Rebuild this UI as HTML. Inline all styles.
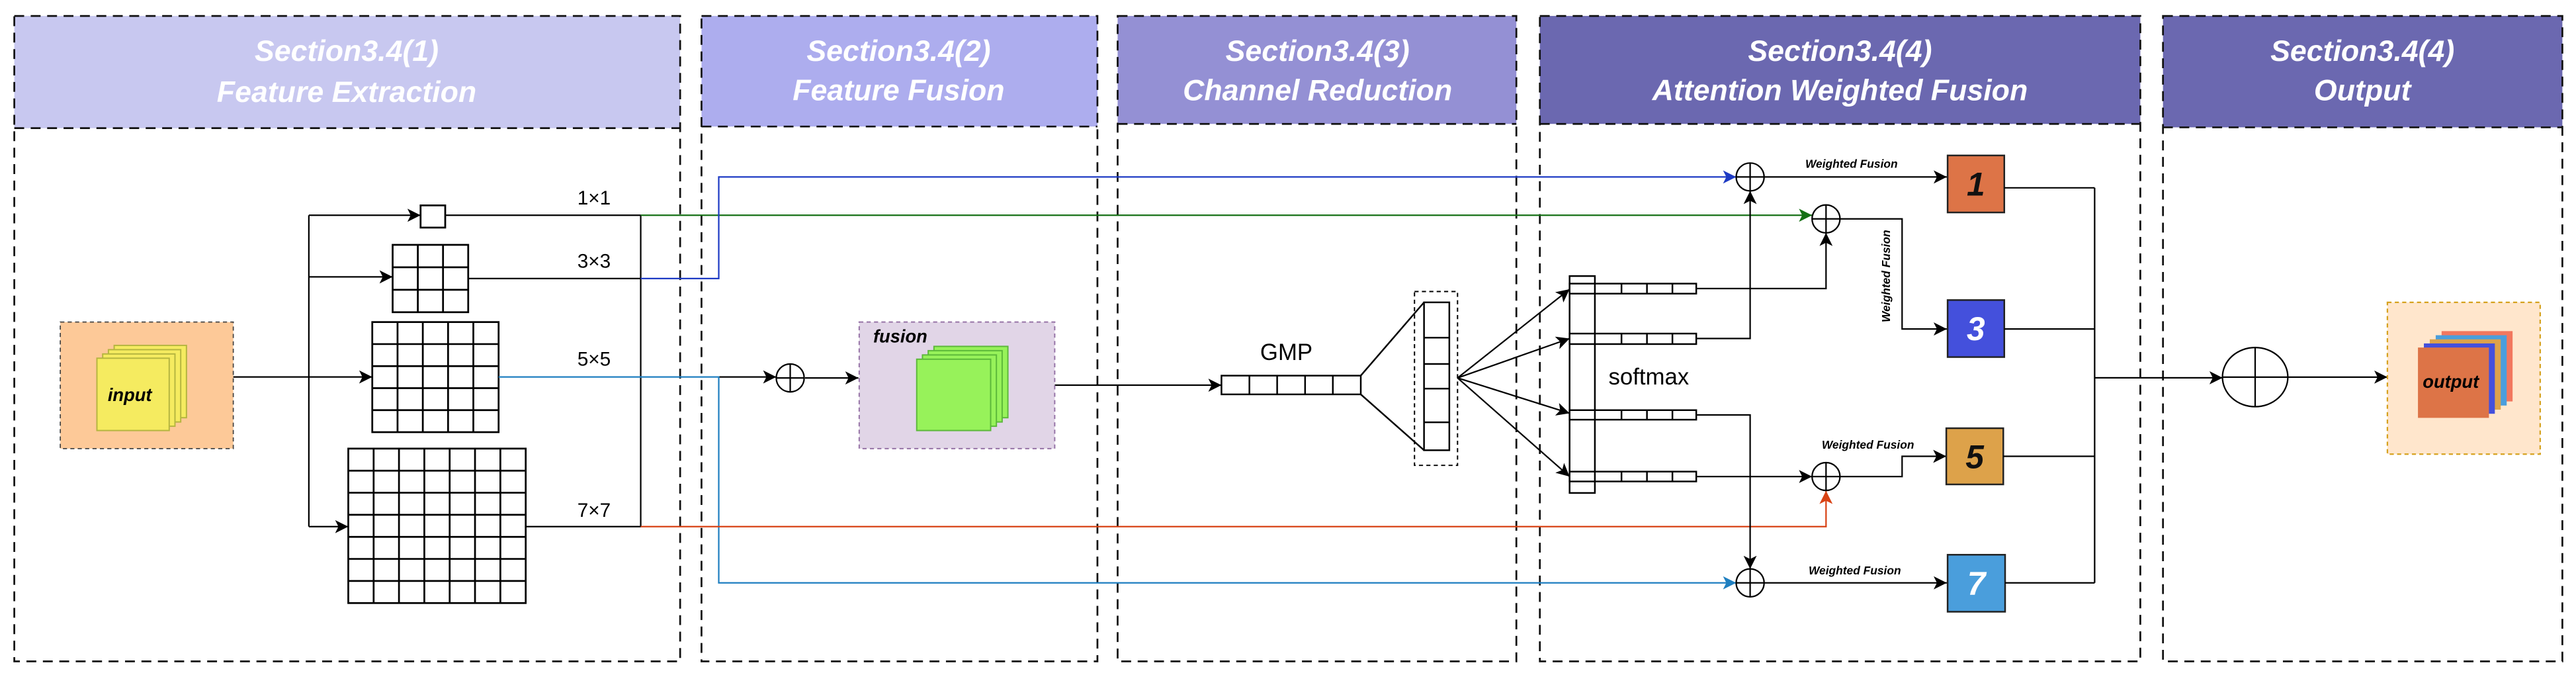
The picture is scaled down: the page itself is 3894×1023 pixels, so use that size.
<!DOCTYPE html>
<html><head><meta charset="utf-8"><style>
html,body{margin:0;padding:0;background:#fff;}
svg{display:block;}
text{font-family:"Liberation Sans",Arial,sans-serif;}
</style></head><body>
<svg width="3894" height="1023" viewBox="0 0 1568 412" preserveAspectRatio="none" xmlns="http://www.w3.org/2000/svg">
<defs>
<marker id="ak" markerUnits="userSpaceOnUse" markerWidth="10" markerHeight="8" refX="8" refY="4" orient="auto"><path d="M0,0 L8,4 L0,8 L2,4 z" fill="#000"/></marker>
<marker id="ab" markerUnits="userSpaceOnUse" markerWidth="10" markerHeight="8" refX="8" refY="4" orient="auto"><path d="M0,0 L8,4 L0,8 L2,4 z" fill="#1e3bc4"/></marker>
<marker id="ag" markerUnits="userSpaceOnUse" markerWidth="10" markerHeight="8" refX="8" refY="4" orient="auto"><path d="M0,0 L8,4 L0,8 L2,4 z" fill="#157015"/></marker>
<marker id="ao" markerUnits="userSpaceOnUse" markerWidth="10" markerHeight="8" refX="8" refY="4" orient="auto"><path d="M0,0 L8,4 L0,8 L2,4 z" fill="#d84315"/></marker>
<marker id="al" markerUnits="userSpaceOnUse" markerWidth="10" markerHeight="8" refX="8" refY="4" orient="auto"><path d="M0,0 L8,4 L0,8 L2,4 z" fill="#1f7fc0"/></marker>
</defs>

<!-- section headers -->
<rect x="8.7" y="9.7" width="405.3" height="68.3" fill="#c8c8f0"/>
<rect x="427" y="9.7" width="241" height="67.3" fill="#adadee"/>
<rect x="680.3" y="9.7" width="242.7" height="65.7" fill="#9490d4"/>
<rect x="937.3" y="9.7" width="365.5" height="65.7" fill="#6b68b0"/>
<rect x="1316.6" y="9.7" width="243.1" height="67.8" fill="#6b68b0"/>
<g fill="none" stroke="#111" stroke-width="1.1" stroke-dasharray="6,4">
<rect x="8.7" y="9.7" width="405.3" height="392.8"/><line x1="8.7" y1="78" x2="414" y2="78"/>
<rect x="427" y="9.7" width="241" height="392.8"/><line x1="427" y1="77" x2="668" y2="77"/>
<rect x="680.3" y="9.7" width="242.7" height="392.8"/><line x1="680.3" y1="75.4" x2="923" y2="75.4"/>
<rect x="937.3" y="9.7" width="365.5" height="392.8"/><line x1="937.3" y1="75.4" x2="1302.8" y2="75.4"/>
<rect x="1316.6" y="9.7" width="243.1" height="392.8"/><line x1="1316.6" y1="77.5" x2="1559.7" y2="77.5"/>
</g>
<g fill="#fff" font-weight="bold" font-style="italic" font-size="18" text-anchor="middle">
<text x="211" y="37">Section3.4(1)</text><text x="211" y="62">Feature Extraction</text>
<text x="547" y="37">Section3.4(2)</text><text x="547" y="61">Feature Fusion</text>
<text x="802" y="37">Section3.4(3)</text><text x="802" y="61">Channel Reduction</text>
<text x="1120" y="37">Section3.4(4)</text><text x="1120" y="61">Attention Weighted Fusion</text>
<text x="1438" y="37">Section3.4(4)</text><text x="1438" y="61">Output</text>
</g>

<!-- input -->
<rect x="36.7" y="196" width="105.3" height="77" fill="#fdc998" stroke="#444" stroke-width="0.7" stroke-dasharray="2.5,2"/>
<g fill="#f5eb60" stroke="#b5b540" stroke-width="0.8">
<rect x="69.5" y="210.2" width="44" height="44"/>
<rect x="66" y="212.8" width="44" height="44"/>
<rect x="62.5" y="215.4" width="44" height="44"/>
<rect x="59" y="218" width="44" height="44"/>
</g>
<text x="79" y="244" font-size="11" font-weight="bold" font-style="italic" text-anchor="middle">input</text>

<!-- grids -->
<g fill="#fff" stroke="#000" stroke-width="1.1">
<rect x="256" y="125" width="15" height="13.5"/>
<rect x="239" y="149" width="46" height="41"/>
<path d="M254.33 149V190M269.67 149V190M239 162.67H285M239 176.33H285"/>
<rect x="226.6" y="196" width="76.9" height="67"/>
<path d="M241.98 196V263M257.36 196V263M272.74 196V263M288.12 196V263M226.6 209.4H303.5M226.6 222.8H303.5M226.6 236.2H303.5M226.6 249.6H303.5"/>
<rect x="212" y="273" width="108" height="94"/>
<path d="M227.43 273V367M242.86 273V367M258.29 273V367M273.71 273V367M289.14 273V367M304.57 273V367M212 286.43H320M212 299.86H320M212 313.29H320M212 326.71H320M212 340.14H320M212 353.57H320"/>
</g>
<g font-size="12" text-anchor="middle">
<text x="361.6" y="124.5">1×1</text><text x="361.6" y="163">3×3</text><text x="361.6" y="222.5">5×5</text><text x="361.6" y="314.5">7×7</text>
</g>

<g fill="none" stroke="#000" stroke-width="0.9">
<path d="M142 229.4H188M188 131V320.5"/>
<path d="M188 131H256" marker-end="url(#ak)"/>
<path d="M188 168.5H239" marker-end="url(#ak)"/>
<path d="M188 229.4H226.6" marker-end="url(#ak)"/>
<path d="M188 320.5H212" marker-end="url(#ak)"/>
<path d="M271 131H390M285 169.5H390M320 320.5H390M390 131V320.5"/>
<path d="M437.5 229.4H472.5" marker-end="url(#ak)"/>
<path d="M490 230H522.5" marker-end="url(#ak)"/>
<path d="M642 234.4H743.5" marker-end="url(#ak)"/>
</g>
<path d="M390 131H1103" fill="none" stroke="#157015" stroke-width="0.9" marker-end="url(#ag)"/>
<path d="M390 169.5H437.5V107.7H1056.8" fill="none" stroke="#1e3bc4" stroke-width="0.9" marker-end="url(#ab)"/>
<path d="M303.5 229.4H437.5V354.7H1056.8" fill="none" stroke="#1f7fc0" stroke-width="0.9" marker-end="url(#al)"/>
<path d="M390 320.5H1111.5V298.7" fill="none" stroke="#d84315" stroke-width="0.9" marker-end="url(#ao)"/>

<!-- fusion circle -->
<g fill="none" stroke="#000" stroke-width="0.9">
<circle cx="481" cy="230" r="8.5"/><path d="M472.5 230H489.5M481 221.5V238.5"/>
</g>
<!-- fusion box -->
<rect x="523" y="196" width="119" height="77" fill="#e1d5e7" stroke="#9673a6" stroke-width="0.8" stroke-dasharray="2.5,2"/>
<g fill="#97f25a" stroke="#5cb83a" stroke-width="0.8">
<rect x="568.5" y="210.8" width="45" height="43.4"/>
<rect x="565" y="213.4" width="45" height="43.4"/>
<rect x="561.5" y="216" width="45" height="43.4"/>
<rect x="558" y="218.6" width="45" height="43.4"/>
</g>
<text x="548" y="208.5" font-size="11" font-weight="bold" font-style="italic" text-anchor="middle">fusion</text>

<!-- GMP -->
<text x="783" y="219" font-size="14" text-anchor="middle">GMP</text>
<g fill="#fff" stroke="#000" stroke-width="1">
<rect x="743.5" y="228.6" width="84.8" height="11.4"/>
<path d="M760.5 228.6V240M777.4 228.6V240M794.4 228.6V240M811.3 228.6V240" fill="none"/>
<path d="M828.3 228.6L866.8 184M828.3 240L866.8 274" fill="none"/>
<rect x="866.8" y="184" width="15.4" height="90"/>
<path d="M866.8 205.5H882.2M866.8 221.5H882.2M866.8 236.5H882.2M866.8 257H882.2" fill="none"/>
</g>
<rect x="861" y="177.4" width="26.2" height="105.8" fill="none" stroke="#000" stroke-width="0.8" stroke-dasharray="2.5,2"/>
<g fill="none" stroke="#000" stroke-width="0.9">
<path d="M887.2 230L955.4 176" marker-end="url(#ak)"/>
<path d="M887.2 230L955.4 206" marker-end="url(#ak)"/>
<path d="M887.2 230L955.4 251.5" marker-end="url(#ak)"/>
<path d="M887.2 230L955.4 290" marker-end="url(#ak)"/>
</g>
<!-- softmax bars -->
<g fill="#fff" stroke="#000" stroke-width="1">
<rect x="955.4" y="168" width="15.4" height="132"/>
<rect x="955.4" y="172.6" width="77.1" height="6.1"/>
<rect x="955.4" y="203" width="77.1" height="6.4"/>
<rect x="955.4" y="249.6" width="77.1" height="5.8"/>
<rect x="955.4" y="287" width="77.1" height="6"/>
<path d="M970.8 172.6V178.7M987 172.6V178.7M1002.5 172.6V178.7M1018 172.6V178.7M970.8 203V209.4M987 203V209.4M1002.5 203V209.4M1018 203V209.4M970.8 249.6V255.4M987 249.6V255.4M1002.5 249.6V255.4M1018 249.6V255.4M970.8 287V293M987 287V293M1002.5 287V293M1018 287V293" fill="none"/>
</g>
<text x="1003.6" y="234" font-size="14" text-anchor="middle">softmax</text>

<g fill="none" stroke="#000" stroke-width="0.9">
<path d="M1032.5 175.6H1111.5V141.7" marker-end="url(#ak)"/>
<path d="M1032.5 206H1065.3V116.2" marker-end="url(#ak)"/>
<path d="M1032.5 252.5H1065.3V346.2" marker-end="url(#ak)"/>
<path d="M1032.5 290H1103" marker-end="url(#ak)"/>
<circle cx="1065.3" cy="107.7" r="8.5"/><path d="M1056.8 107.7H1073.8M1065.3 99.2V116.2"/>
<circle cx="1111.5" cy="133.2" r="8.5"/><path d="M1103 133.2H1120M1111.5 124.7V141.7"/>
<circle cx="1111.5" cy="290" r="8.5"/><path d="M1103 290H1120M1111.5 281.5V298.5"/>
<circle cx="1065.3" cy="354.7" r="8.5"/><path d="M1056.8 354.7H1073.8M1065.3 346.2V363.2"/>
<path d="M1073.8 107.7H1185" marker-end="url(#ak)"/>
<path d="M1120 133.2H1157.8V200.2H1185" marker-end="url(#ak)"/>
<path d="M1120 290H1157.8V277.7H1184.7" marker-end="url(#ak)"/>
<path d="M1073.8 354.7H1185" marker-end="url(#ak)"/>
</g>
<g font-size="7" font-weight="bold" font-style="italic" text-anchor="middle">
<text x="1127" y="102">Weighted Fusion</text>
<text x="1137" y="273">Weighted Fusion</text>
<text x="1129" y="349.5">Weighted Fusion</text>
<text transform="translate(1150.5,168) rotate(-90)">Weighted Fusion</text>
</g>
<!-- numbered boxes -->
<g stroke="#222" stroke-width="1">
<rect x="1185.5" y="94.6" width="34.5" height="34.7" fill="#dd7447"/>
<rect x="1185.5" y="182.6" width="34.5" height="34.7" fill="#4450dc"/>
<rect x="1184.7" y="260.6" width="34.7" height="34.2" fill="#dda24a"/>
<rect x="1185.5" y="337.6" width="35" height="34.7" fill="#4a9edc"/>
</g>
<g font-size="20" font-weight="bold" font-style="italic" text-anchor="middle">
<text x="1202.7" y="119" fill="#111">1</text>
<text x="1202.7" y="207" fill="#fff">3</text>
<text x="1202" y="285" fill="#111">5</text>
<text x="1203" y="362" fill="#fff">7</text>
</g>
<g fill="none" stroke="#000" stroke-width="0.9">
<path d="M1220 114.3H1275M1220 200.2H1275M1219.4 277.7H1275M1220.5 354.7H1275M1275 114.3V354.7"/>
<path d="M1275 229.9H1352.9" marker-end="url(#ak)"/>
<ellipse cx="1372.7" cy="229.5" rx="19.9" ry="18"/>
<path d="M1352.8 229.5H1392.6M1372.7 211.5V247.5"/>
<path d="M1392.6 229.5H1453.2" marker-end="url(#ak)"/>
</g>
<!-- output -->
<rect x="1453.2" y="184" width="93" height="92.4" fill="#ffe6cc" stroke="#d6a21f" stroke-width="0.9" stroke-dasharray="2.5,2"/>
<rect x="1486.2" y="201.5" width="43.2" height="42.8" fill="#f2775e"/>
<rect x="1482.6" y="204" width="43.2" height="42.8" fill="#4a9edc"/>
<rect x="1479" y="206.5" width="43.2" height="42.8" fill="#dda24a"/>
<rect x="1475.4" y="209" width="43.2" height="42.8" fill="#4450dc"/>
<rect x="1471.8" y="211.5" width="43.2" height="42.8" fill="#dd7447"/>
<text x="1491.8" y="236" font-size="11" font-weight="bold" font-style="italic" text-anchor="middle">output</text>
</svg>
</body></html>
